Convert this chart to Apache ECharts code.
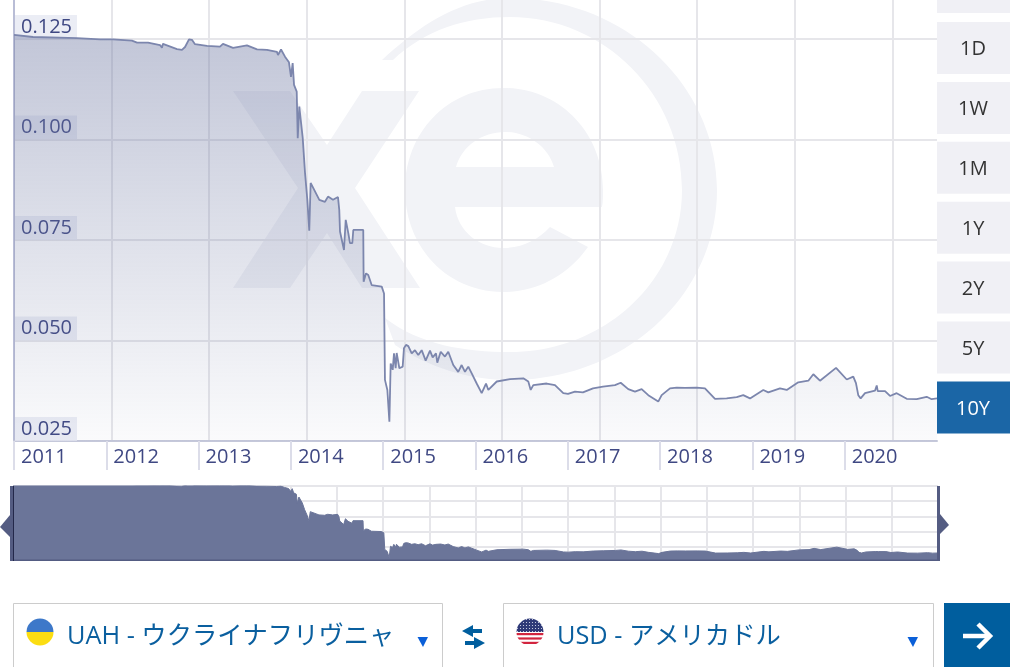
<!DOCTYPE html>
<html><head><meta charset="utf-8">
<style>html,body{margin:0;padding:0;background:#fff;overflow:hidden}#c{position:absolute;left:0;top:0;width:1010px;height:667px}
svg.flag{position:absolute;width:28px;height:28px;z-index:3}svg.wm{position:absolute;left:0;top:0;width:1010px;height:667px}</style>
<script src="https://cdn.jsdelivr.net/npm/echarts@6/dist/echarts.min.js"></script>
</head><body>
<svg class="wm" viewBox="0 0 1010 667"><g fill="#f2f3f7">
<path d="M233 91 L290 91 L327 145 L362 91 L419 91 L355 188 L420 288 L362 288 L327 233 L290 288 L233 288 L298 188 Z"/>
<path d="M602 207 L455 207 C458 232 480 248 503 248 C522 248 538 240 550 227 L588 247 C568 275 538 292 503 292 C447 292 405 247 405 190 C405 133 447 88 503 88 C560 88 603 133 603 190 C603 196 603 202 602 207 Z M456 167 L554 167 C548 146 527 132 505 132 C482 132 462 146 456 167 Z"/>
<path d="M382 60 C420 25 460 -2 510 -2 C625 -2 717 85 717 190 C717 295 625 380 510 380 C470 380 430 368 395 345 L385 318 C420 345 465 352 510 352 C605 352 682 280 682 190 C682 95 605 17 510 17 C465 17 425 30 393 60 Z"/>
</g></svg>
<div id="c"></div>
<svg class="flag" style="left:26px;top:618px" viewBox="0 0 28 28"><defs><clipPath id="a"><circle cx="14" cy="14" r="13.5"/></clipPath></defs><g clip-path="url(#a)"><rect width="28" height="14" fill="#3d78c9"/><rect y="14" width="28" height="14" fill="#fbdd12"/></g></svg>
<svg class="flag" style="left:516px;top:618px" viewBox="0 0 28 28"><defs><clipPath id="b"><circle cx="14" cy="14" r="13.5"/></clipPath><pattern id="p" width="3" height="3" patternUnits="userSpaceOnUse"><circle cx="1.5" cy="1.5" r=".55" fill="#dfe3f2"/></pattern></defs><g clip-path="url(#b)"><rect width="28" height="28" fill="#fff"/><rect y="15" width="28" height="2.2" fill="#d2253f"/><rect y="19.4" width="28" height="2.2" fill="#d2253f"/><rect y="23.8" width="28" height="2.2" fill="#d2253f"/><rect width="28" height="14" fill="#2f3a78"/><rect width="28" height="14" fill="url(#p)"/></g></svg>
<script>
const years = [2011,2011.206,2011.683,2011.932,2012.073,2012.278,2012.333,2012.452,2012.582,2012.603,2012.614,2012.766,2012.82,2012.853,2012.896,2012.928,2012.961,2013.091,2013.232,2013.264,2013.373,2013.524,2013.633,2013.741,2013.849,2013.86,2013.893,2013.936,2013.979,2014.001,2014.019,2014.034,2014.063,2014.074,2014.091,2014.109,2014.128,2014.153,2014.178,2014.199,2014.214,2014.243,2014.308,2014.369,2014.402,2014.456,2014.51,2014.524,2014.532,2014.575,2014.594,2014.622,2014.64,2014.665,2014.676,2014.784,2014.788,2014.814,2014.838,2014.875,2014.984,2015.009,2015.019,2015.045,2015.067,2015.081,2015.103,2015.117,2015.135,2015.146,2015.175,2015.211,2015.225,2015.247,2015.272,2015.309,2015.344,2015.38,2015.417,2015.46,2015.507,2015.536,2015.572,2015.586,2015.623,2015.669,2015.705,2015.759,2015.813,2015.85,2015.886,2015.922,2015.959,2016.013,2016.067,2016.114,2016.139,2016.23,2016.374,2016.518,2016.572,2016.598,2016.626,2016.771,2016.861,2016.951,2017.002,2017.078,2017.164,2017.273,2017.381,2017.511,2017.573,2017.655,2017.728,2017.8,2017.872,2017.98,2018.017,2018.107,2018.18,2018.27,2018.396,2018.486,2018.595,2018.721,2018.83,2018.901,2018.974,2019.118,2019.172,2019.299,2019.372,2019.497,2019.606,2019.66,2019.732,2019.906,2020.022,2020.093,2020.122,2020.147,2020.173,2020.22,2020.328,2020.347,2020.358,2020.437,2020.491,2020.563,2020.672,2020.78,2020.888,2020.942,2021];
const rates = [.126,.1255,.1252,.1249,.1249,.1246,.1241,.1241,.1235,.1228,.1238,.1225,.1223,.123,.1249,.1248,.1237,.1233,.1231,.1238,.1228,.1234,.1224,.1223,.1218,.121,.1224,.1206,.1192,.1156,.119,.1136,.1119,.1003,.1082,.1082,.1004,.0917,.085,.0773,.0892,.0879,.085,.0845,.0858,.085,.0857,.0825,.0771,.0725,.08,.0767,.0742,.0742,.0775,.0775,.0646,.0667,.0663,.0638,.0634,.0617,.0402,.0377,.0298,.0443,.0427,.0468,.0431,.0469,.0431,.0435,.0481,.0489,.0486,.0468,.0476,.0464,.0476,.045,.0475,.0458,.0468,.0445,.0472,.046,.0472,.0439,.0422,.0439,.0422,.0435,.0418,.0393,.0369,.0393,.0377,.0398,.0404,.0406,.0398,.0377,.0389,.0393,.0389,.0369,.0367,.0373,.0371,.0381,.0385,.0389,.0395,.0379,.0373,.0379,.0364,.0348,.0364,.0381,.0383,.0382,.0383,.0381,.0355,.0356,.0359,.0364,.0356,.0377,.0371,.0381,.0377,.0396,.04,.0416,.04,.0432,.0403,.041,.0394,.0364,.0356,.0369,.0375,.0388,.0374,.0374,.0362,.0369,.0355,.0354,.036,.0354,.0356];
const yearLabels = ['2011','2012','2013','2014','2015','2016','2017','2018','2019','2020'];
const rangeButtons = ['1D','1W','1M','1Y','2Y','5Y','10Y'];
const fromCurrency = 'UAH - ウクライナフリヴニャ';
const toCurrency = 'USD - アメリカドル';

const points = years.map((y,i)=>[y,rates[i]]);
const FONT = '"Open Sans","Noto Sans CJK JP",sans-serif';
const GRID = '#e6e6ea', INK = '#3f4883';
const hidden = {axisLabel:{show:false},axisTick:{show:false},axisLine:{show:false}};
const lineOnly = {show:true,showMinLine:false,showMaxLine:false,lineStyle:{color:GRID,width:2}};

const gfx = [];
gfx.push({type:'rect',shape:{x:937,y:0,width:73,height:13},style:{fill:'#f0f0f5'}});
rangeButtons.forEach((t,i)=>{
  const y=22+i*59.9, on=t==='10Y';
  gfx.push({type:'rect',shape:{x:937,y:y,width:73,height:52},style:{fill:on?'#1b66a6':'#f0f0f5'}});
  gfx.push({type:'text',x:973,y:y+27.5,z:3,style:{text:t,font:'20px '+FONT,fill:on?'#fff':'#333',align:'center',verticalAlign:'middle'}});
});
const nav='#545c82';
gfx.push({type:'rect',z:5,shape:{x:10,y:486,width:4,height:75},style:{fill:nav}});
gfx.push({type:'rect',z:6,shape:{x:13,y:486,width:1,height:75},style:{fill:'#23284a'}});
gfx.push({type:'rect',z:5,shape:{x:937,y:486,width:3,height:75},style:{fill:nav}});
gfx.push({type:'rect',z:5,shape:{x:10,y:559.5,width:930,height:1.5},style:{fill:nav}});
gfx.push({type:'polygon',z:5,shape:{points:[[0,527],[10,515],[10,537]]},style:{fill:nav}});
gfx.push({type:'polygon',z:5,shape:{points:[[949,525],[940,514],[940,534]]},style:{fill:nav}});
[[13.5,429,fromCurrency,67,423],[503.5,430,toCurrency,557,913]].forEach(([x,w,t,tx,ax])=>{
  gfx.push({type:'rect',shape:{x:x,y:603.5,width:w,height:70},style:{fill:'#fff',stroke:'#cccccc',lineWidth:1}});
  gfx.push({type:'text',x:tx,y:636.5,style:{text:t,font:'25.3px '+FONT,fill:'#0a5f9f',verticalAlign:'middle'}});
  gfx.push({type:'polygon',shape:{points:[[ax-5.5,637],[ax+5,637],[ax,647]]},style:{fill:'#0a5fd8'}});
});
const blue='#005e9e';
gfx.push({type:'polygon',shape:{points:[[462,631],[473,625],[473,629],[482,629],[482,633],[473,633],[473,637]]},style:{fill:blue}});
gfx.push({type:'polygon',shape:{points:[[485,643],[474,637],[474,641],[465,641],[465,645],[474,645],[474,649]]},style:{fill:blue}});
gfx.push({type:'rect',shape:{x:944,y:603,width:66,height:64},style:{fill:blue}});
gfx.push({type:'line',shape:{x1:963,y1:636,x2:989,y2:636},style:{stroke:'#fff',lineWidth:4.5}});
gfx.push({type:'polyline',shape:{points:[[978,624],[990,636],[978,648]]},style:{fill:null,stroke:'#fff',lineWidth:4.5}});

const chart = echarts.init(document.getElementById('c'),null,{renderer:'canvas'});
chart.setOption({
  animation:false,backgroundColor:'transparent',
  textStyle:{fontFamily:FONT},
  graphic:{elements:gfx},
  grid:[{left:14,top:0,width:923,height:441},{left:13,top:486,width:925,height:74}],
  xAxis:[
    {type:'value',gridIndex:0,min:2011,max:2021,interval:1,splitLine:{show:false},
     axisLine:{show:true,onZero:false,lineStyle:{color:'#c5c8da',width:2}},
     axisTick:{show:true,length:29,lineStyle:{color:'#dcdde9',width:2}},
     axisLabel:{show:true,showMaxLabel:false,showMinLabel:true,align:'left',margin:6,padding:[0,0,0,7],fontSize:20,fontFamily:FONT,color:INK,
       formatter:v=>yearLabels[Math.round(v-2011)]||''}},
    {type:'value',gridIndex:0,min:0,max:9.457,interval:1,...hidden,splitLine:lineOnly},
    {type:'value',gridIndex:1,min:2011,max:2021,...hidden,splitLine:{show:false}},
    {type:'value',gridIndex:1,min:0,max:20,interval:1,...hidden,splitLine:lineOnly}
  ],
  yAxis:[
    {type:'value',gridIndex:0,min:0.025,max:0.1347,interval:0.025,
     axisLine:{show:true,lineStyle:{color:'#b9bdd6',width:2}},axisTick:{show:false},
     splitLine:{show:true,showMaxLine:false,showMinLine:false,lineStyle:{color:GRID,width:2}},
     axisLabel:{inside:true,margin:1,showMaxLabel:false,showMinLabel:true,fontSize:20,fontFamily:FONT,color:INK,verticalAlign:'bottom',lineHeight:24,
       padding:[0,5,0,6],backgroundColor:'rgba(230,232,243,0.8)',formatter:v=>v.toFixed(3)}},
    {type:'value',gridIndex:1,min:0.0265,max:0.1225,...hidden,splitLine:{show:false}},
    {type:'value',gridIndex:1,min:0,max:4.87,interval:1,inverse:true,...hidden,splitLine:{...lineOnly,showMinLine:true}}
  ],
  series:[
    {type:'line',xAxisIndex:0,yAxisIndex:0,data:points,symbol:'none',z:4,
     lineStyle:{color:'#7c86ad',width:1.8},
     areaStyle:{opacity:1,origin:'start',color:new echarts.graphic.LinearGradient(0,0,0,1,[{offset:0,color:'rgba(110,120,162,0.42)'},{offset:1,color:'rgba(110,120,162,0.03)'}])}},
    {type:'line',xAxisIndex:2,yAxisIndex:1,data:points,symbol:'none',z:4,
     lineStyle:{color:'#6b7599',width:1},areaStyle:{opacity:1,origin:'start',color:'#6b7599'}}
  ]
});
</script></body></html>
